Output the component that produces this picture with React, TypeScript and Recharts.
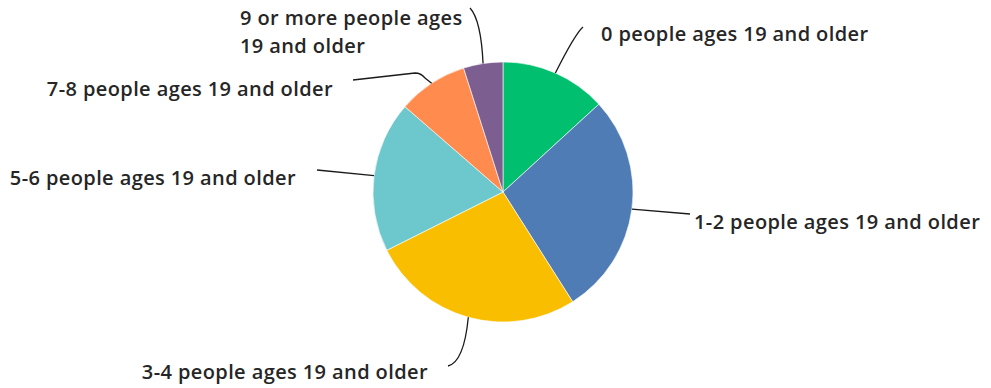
import { PieChart, Pie, Cell } from 'recharts';

const categories = [
  '0 people ages 19 and older',
  '1-2 people ages 19 and older',
  '3-4 people ages 19 and older',
  '5-6 people ages 19 and older',
  '7-8 people ages 19 and older',
  '9 or more people ages 19 and older',
];

const shares = [13.2, 27.8, 26.6, 18.8, 8.7, 4.9];

const labelLines = [
  ['0 people ages 19 and older'],
  ['1-2 people ages 19 and older'],
  ['3-4 people ages 19 and older'],
  ['5-6 people ages 19 and older'],
  ['7-8 people ages 19 and older'],
  ['9 or more people ages', '19 and older'],
];

const COLORS = ['#00BF6F', '#507CB6', '#F9BE00', '#6CC8CD', '#FF8B4F', '#7C5E91'];

// label placement relative to the pie centre, leader line drawn from the slice edge
const LABEL_LAYOUT = [
  { x: 98, y: -159, anchor: 'start', path: (s: string) => `${s} Q 72 -158 80 -165` },
  { x: 191, y: 29, anchor: 'start', path: (s: string) => `${s} L 187 22` },
  { x: -75, y: 179, anchor: 'end', path: (s: string) => `${s} Q -39 170 -55 174` },
  { x: -207, y: -15, anchor: 'end', path: (s: string) => `${s} L -186 -22` },
  { x: -170, y: -104, anchor: 'end', path: (s: string) => `${s} L -78 -114 Q -82 -119 -88 -119 L -150 -112` },
  { x: -263, y: -175, anchor: 'start', path: (s: string) => `${s} Q -22 -172 -33 -184` },
];

const data = categories.map((name, i) => ({ name, value: shares[i] }));

const RAD = Math.PI / 180;

function renderLabel(props: any) {
  const { cx, cy, midAngle, outerRadius, index } = props;
  const layout = LABEL_LAYOUT[index];
  const sx = outerRadius * Math.cos(-midAngle * RAD);
  const sy = outerRadius * Math.sin(-midAngle * RAD);
  const lines = labelLines[index];
  return (
    <g key={`label-${index}`} transform={`translate(${cx},${cy})`}>
      <path d={layout.path(`M ${sx} ${sy}`)} fill="none" stroke="#1a1a1a" strokeWidth={1.3} />
      {lines.map((line, j) => (
        <text
          key={j}
          x={layout.x}
          y={layout.y + j * 28}
          textAnchor={layout.anchor as any}
          dominantBaseline="central"
          fill="#262626"
          fontSize={20}
          fontWeight={600}
          letterSpacing={0.4}
          fontFamily="'Open Sans', sans-serif"
        >
          {line}
        </text>
      ))}
    </g>
  );
}

export default function App() {
  return (
    <div style={{ position: 'absolute', left: 0, top: 0, width: 991, height: 388, background: '#fff' }}>
      <PieChart width={991} height={388} margin={{ top: 0, right: 0, bottom: 0, left: 0 }}>
        <Pie
          data={data}
          dataKey="value"
          nameKey="name"
          cx={503}
          cy={192}
          outerRadius={130}
          startAngle={90}
          endAngle={-270}
          stroke="#ffffff"
          strokeWidth={0.6}
          label={renderLabel}
          labelLine={false}
          isAnimationActive={false}
        >
          {data.map((entry, index) => (
            <Cell key={`cell-${index}`} fill={COLORS[index]} />
          ))}
        </Pie>
      </PieChart>
    </div>
  );
}
